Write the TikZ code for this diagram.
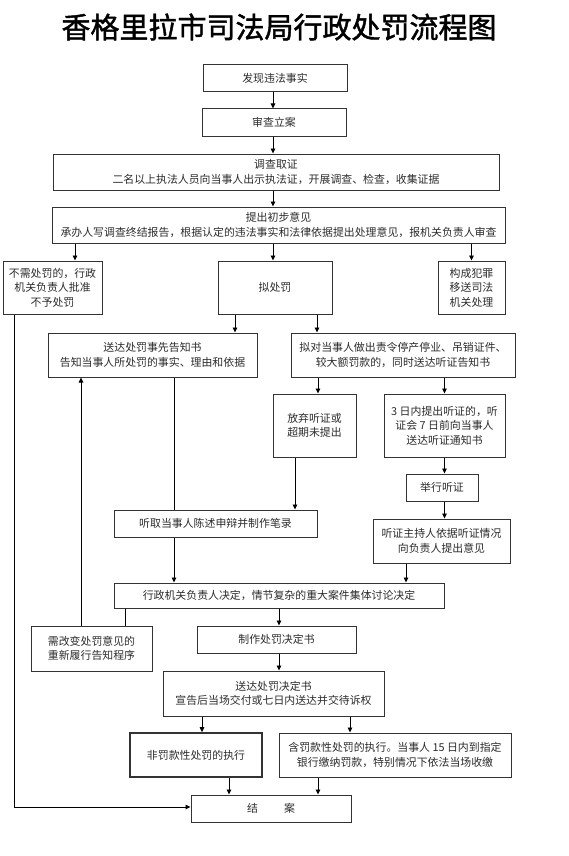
\documentclass[tikz,border=0pt]{standalone}
\usepackage{fontspec}
\usepackage{tikz}
\usetikzlibrary{positioning,arrows.meta,calc}
\newfontfamily\cjk{Noto Sans CJK SC}
\newfontfamily\cjkbold{Noto Sans CJK SC}[FakeBold=1.5]
\definecolor{boxline}{HTML}{333333}
\definecolor{textc}{HTML}{2B2B2B}
\tikzset{
  stepbox/.style={draw=boxline, line width=1pt, rectangle, align=center,
              inner sep=1pt, text=textc, font=\cjk\fontsize{10.9}{14.5}\selectfont},
  thickbox/.style={stepbox, line width=1.6pt},
  flow/.style={-{Triangle[length=5pt,width=4.5pt]}, line width=0.9pt, draw=black},
  plain/.style={line width=0.9pt, draw=black},
}

\begin{document}
\begin{tikzpicture}[x=1pt,y=-1pt]
\useasboundingbox (0,0) rectangle (568,856);
\node[font=\cjkbold\fontsize{29}{32}\selectfont] (title) at (279,27) {香格里拉市司法局行政处罚流程图};

% main column
\node[stepbox, minimum width=144, minimum height=27] (find) at (275,78.5) {发现违法事实};
\node[stepbox, minimum width=144, minimum height=27] (file) at (274,122.5) {审查立案};
\node[stepbox, minimum width=446, minimum height=36] (probe) at (276,172)
  {调查取证\\二名以上执法人员向当事人出示执法证，开展调查、检查，收集证据};
\node[stepbox, minimum width=453, minimum height=36] (opin) at (278.5,225)
  {提出初步意见\\承办人写调查终结报告，根据认定的违法事实和法律依据提出处理意见，报机关负责人审查};

% three branches
\node[stepbox, minimum width=99, minimum height=53] (nopen) at (52.5,287.5)
  {不需处罚的，行政\\机关负责人批准\\不予处罚};
\node[stepbox, minimum width=114, minimum height=53] (pen) at (275,287.5) {拟处罚};
\node[stepbox, minimum width=67, minimum height=53] (crime) at (471.5,287.5)
  {构成犯罪\\移送司法\\机关处理};

% notice and hearing
\node[stepbox, minimum width=209, minimum height=44] (notice) at (152.5,355)
  {送达处罚事先告知书\\告知当事人所处罚的事实、理由和依据};
\node[stepbox, minimum width=224, minimum height=44] (heavy) at (403,355)
  {拟对当事人做出责令停产停业、吊销证件、\\较大额罚款的，同时送达听证告知书};
\node[stepbox, minimum width=83, minimum height=63] (waive) at (314.5,425.5)
  {放弃听证或\\超期未提出};
\node[stepbox, minimum width=121, minimum height=63] (ask) at (444.5,425.5)
  {3 日内提出听证的，听\\证会 7 日前向当事人\\送达听证通知书};
\node[stepbox, minimum width=72, minimum height=27] (hear) at (442,487.5) {举行听证};
\node[stepbox, minimum width=137, minimum height=44] (host) at (441.5,541)
  {听证主持人依据听证情况\\向负责人提出意见};
\node[stepbox, minimum width=203, minimum height=27] (plead) at (215.5,523.5)
  {听取当事人陈述申辩并制作笔录};

% decision
\node[stepbox, minimum width=330, minimum height=25] (decide) at (279,595.5)
  {行政机关负责人决定，情节复杂的重大案件集体讨论决定};
\node[stepbox, minimum width=121, minimum height=45] (redo) at (91.5,648.5)
  {需改变处罚意见的\\重新履行告知程序};
\node[stepbox, minimum width=159, minimum height=27] (draft) at (276.5,639.5) {制作处罚决定书};
\node[stepbox, minimum width=221, minimum height=45] (serve) at (273.5,693.5)
  {送达处罚决定书\\宣告后当场交付或七日内送达并交待诉权};
\node[thickbox, minimum width=132, minimum height=44] (nofine) at (196,755) {非罚款性处罚的执行};
\node[stepbox, minimum width=232, minimum height=44] (fine) at (395,755)
  {含罚款性处罚的执行。当事人 15 日内到指定\\银行缴纳罚款，特别情况下依法当场收缴};
\node[stepbox, minimum width=160, minimum height=27] (close) at (271,808.5) {结\hspace{2.4em}案};

% connectors
\draw[flow] ([xshift=-2pt]find.south) -- ([xshift=-2pt]find.south |- file.north);
\draw[flow] ([xshift=-1pt]file.south) -- ([xshift=-1pt]file.south |- probe.north);
\draw[flow] ([xshift=-1pt]file.south |- probe.south) -- ([xshift=-1pt]file.south |- opin.north);
\draw[flow] ([xshift=22.5pt]nopen.north |- opin.south) -- ([xshift=22.5pt]nopen.north);
\draw[flow] ([xshift=-2pt]pen.north |- opin.south) -- ([xshift=-2pt]pen.north);
\draw[flow] (crime.north |- opin.south) -- (crime.north);
\draw[flow] ([xshift=-40pt]pen.south) -- ([xshift=-40pt]pen.south |- notice.north);
\draw[flow] ([xshift=42pt]pen.south) -- ([xshift=42pt]pen.south |- heavy.north);
\draw[flow] ([xshift=3.5pt]waive.north |- heavy.south) -- ([xshift=3.5pt]waive.north);
\draw[flow] (ask.north |- heavy.south) -- (ask.north);
\draw[flow] (ask.south) -- (ask.south |- hear.north);
\draw[flow] (ask.south |- hear.south) -- (ask.south |- host.north);
\draw[flow] ([xshift=-19.5pt]waive.south) -- ([xshift=-19.5pt]waive.south |- plead.north);
\draw[plain] ([xshift=21.5pt]notice.south) -- ([xshift=21.5pt]notice.south |- plead.north);
\draw[flow] ([xshift=-41.5pt]plead.south) -- ([xshift=-41.5pt]plead.south |- decide.north);
\draw[flow] ([xshift=-35.5pt]host.south) -- ([xshift=-35.5pt]host.south |- decide.north);
\draw[plain] ([xshift=33.5pt]redo.north |- decide.south) -- ([xshift=33.5pt]redo.north);
\draw[flow] ([xshift=-10.5pt]redo.north) -- ([xshift=-10.5pt]redo.north |- notice.south);
\draw[flow] (decide.south) -- (decide.south |- draft.north);
\draw[flow] (decide.south |- draft.south) -- (decide.south |- serve.north);
\draw[flow] ([xshift=6pt]nofine.north |- serve.south) -- ([xshift=6pt]nofine.north);
\draw[flow] ([xshift=-45pt]fine.north |- serve.south) -- ([xshift=-45pt]fine.north);
\draw[flow] ([xshift=33pt]nofine.south) -- ([xshift=33pt]nofine.south |- close.north);
\draw[flow] ([xshift=-77pt]fine.south) -- ([xshift=-77pt]fine.south |- close.north);
\draw[flow] ([xshift=-38.5pt]nopen.south) |- ([yshift=1.5pt]close.west);
\end{tikzpicture}
\end{document}
